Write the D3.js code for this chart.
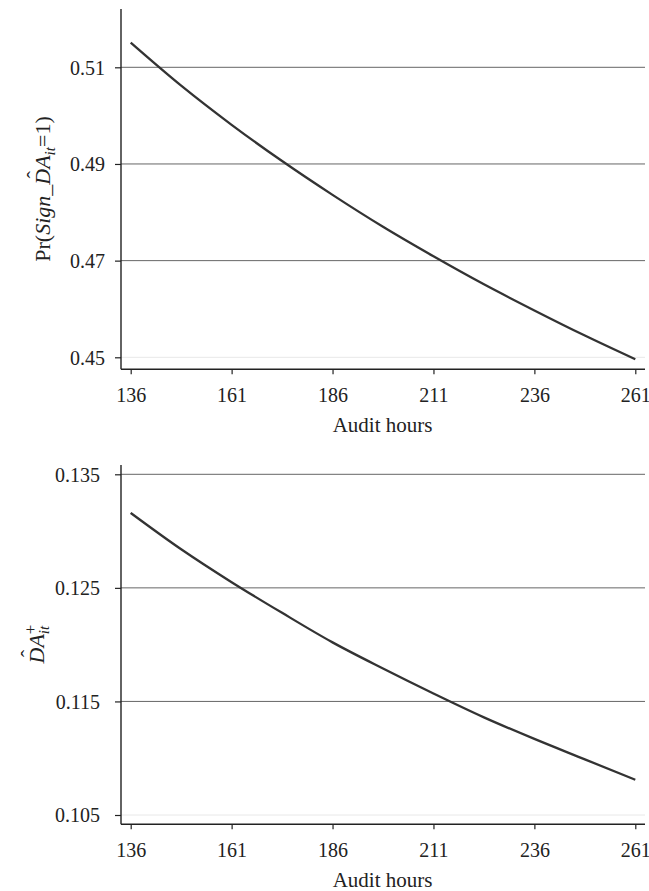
<!DOCTYPE html>
<html>
<head>
<meta charset="utf-8">
<script src="https://cdn.jsdelivr.net/npm/d3@7"></script>
<style>
  html, body { margin: 0; padding: 0; background: #fff; }
  svg { display: block; }
  svg text { font-family: "Liberation Serif", "DejaVu Serif", "Times New Roman", serif !important; fill: #222; }
</style>
</head>
<body>
<svg id="chart" width="649" height="891"></svg>
<script>
// ---- data ----
const hours = [136, 148.5, 161, 173.5, 186, 198.5, 211, 223.5, 236, 248.5, 261];
const prSign = [0.5151, 0.5062, 0.4981, 0.4906, 0.4836, 0.4770, 0.4709, 0.4651, 0.4597, 0.4545, 0.4496];
const daPlus = [0.1316, 0.1284, 0.1255, 0.1228, 0.1202, 0.1179, 0.1157, 0.1136, 0.1117, 0.1099, 0.1081];
const xTicks = [136, 161, 186, 211, 236, 261];
const yTicksTop = [0.45, 0.47, 0.49, 0.51];
const yTicksBottom = [0.105, 0.115, 0.125, 0.135];
const xTitle = "Audit hours";

const svg = d3.select("#chart");
const x = d3.scaleLinear().domain([136, 261]).range([130.7, 635.3]);
const axisX0 = 121, axisX1 = 645;

function panel(cfg) {
  const g = svg.append("g");
  const y = d3.scaleLinear().domain(cfg.yDomain).range(cfg.yRange);
  const minTick = d3.min(cfg.yTicks);

  // gridlines
  g.selectAll("line.grid").data(cfg.yTicks).join("line")
    .attr("class", "grid")
    .attr("x1", axisX0).attr("x2", axisX1)
    .attr("y1", d => y(d)).attr("y2", d => y(d))
    .attr("stroke", d => d === minTick ? "#e8e8e8" : "#666")
    .attr("stroke-width", 1);

  // y axis
  const ya = g.append("g").attr("transform", `translate(${axisX0},0)`)
    .call(d3.axisLeft(y).tickValues(cfg.yTicks).tickSize(6).tickSizeOuter(0).tickFormat(d => String(d)));
  ya.attr("font-family", null).attr("font-size", null);
  ya.select(".domain").remove();
  ya.selectAll(".tick line").attr("stroke", "#222").attr("stroke-width", 1.2);
  ya.selectAll(".tick text")
    .attr("x", -(axisX0 - cfg.yLabelX)).attr("dy", null).attr("y", 6.8)
    .style("font-size", "20px").attr("fill", "#222");
  g.append("line").attr("x1", axisX0).attr("x2", axisX0)
    .attr("y1", cfg.axisTop).attr("y2", cfg.axisBottom)
    .attr("stroke", "#222").attr("stroke-width", 1.4);

  // x axis
  const xa = g.append("g").attr("transform", `translate(0,${cfg.axisBottom})`)
    .call(d3.axisBottom(x).tickValues(xTicks).tickSize(5).tickSizeOuter(0).tickFormat(d3.format("d")));
  xa.attr("font-family", null).attr("font-size", null);
  xa.select(".domain").remove();
  xa.selectAll(".tick line").attr("stroke", "#222").attr("stroke-width", 1.2);
  xa.selectAll(".tick text").attr("dy", null).attr("y", 32.4)
    .style("font-size", "20px").attr("fill", "#222");
  g.append("line").attr("x1", axisX0).attr("x2", axisX1)
    .attr("y1", cfg.axisBottom).attr("y2", cfg.axisBottom)
    .attr("stroke", "#222").attr("stroke-width", 1.4);

  g.append("text").attr("x", 382.5).attr("y", cfg.axisBottom + 63)
    .attr("text-anchor", "middle").style("font-size", "21px").text(xTitle);

  // curve
  const line = d3.line().x((d, i) => x(hours[i])).y(d => y(d)).curve(d3.curveMonotoneX);
  g.append("path").datum(cfg.values).attr("d", line)
    .attr("fill", "none").attr("stroke", "#333").attr("stroke-width", 2.3);

  // y title
  const tg = g.append("g").attr("transform", `translate(${cfg.titleX},${cfg.titleY}) rotate(-90)`);
  const t = tg.append("text").attr("text-anchor", "middle").style("font-size", "22px");
  cfg.buildTitle(t);
  const ext = t.node().getExtentOfChar(cfg.hatIndex);
  tg.append("text").attr("text-anchor", "middle")
    .attr("x", ext.x + ext.width / 2 + 2).attr("y", -8)
    .style("font-size", "22px").text("\u02C6");
}

panel({
  yDomain: [0.45, 0.51], yRange: [357.3, 67.3], yTicks: yTicksTop,
  axisTop: 9, axisBottom: 369.3, yLabelX: 105, values: prSign,
  titleX: 50, titleY: 189, hatIndex: 8,
  buildTitle: t => {
    t.append("tspan").text("Pr(");
    t.append("tspan").style("font-style", "italic").text("Sign_DA");
    t.append("tspan").style("font-style", "italic").style("font-size", "15px").attr("dy", 5).text("it");
    t.append("tspan").attr("dy", -5).text("=1)");
  }
});

panel({
  yDomain: [0.105, 0.135], yRange: [815, 474.3], yTicks: yTicksBottom,
  axisTop: 465, axisBottom: 824.3, yLabelX: 100, values: daPlus,
  titleX: 44, titleY: 644, hatIndex: 0,
  buildTitle: t => {
    t.append("tspan").style("font-style", "italic").text("DA");
    const plus = t.append("tspan").style("font-size", "17px").attr("dy", -8).text("+");
    const w = plus.node().getComputedTextLength();
    t.append("tspan").style("font-style", "italic").style("font-size", "15px")
      .attr("dx", -w).attr("dy", 13).text("it");
  }
});
</script>
</body>
</html>
